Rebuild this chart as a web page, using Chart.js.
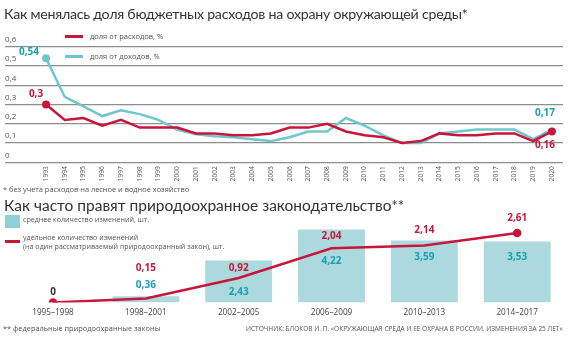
<!DOCTYPE html>
<html><head><meta charset="utf-8">
<script src="https://cdn.jsdelivr.net/npm/chart.js@4/dist/chart.umd.min.js"></script>
<style>
body{margin:0;width:570px;height:339px;overflow:hidden;background:#fff;font-family:'Open Sans',sans-serif;color:#333;position:relative}
.t{position:absolute;white-space:nowrap;line-height:1}
.lg{font-size:7.5px;color:#555}
.lg2{font-size:7.1px;color:#555}
.ttl{font-family:Lato,sans-serif;font-size:15.5px;color:#333}
#w1{position:absolute;left:0;top:0;width:570px;height:195px}
#w2{position:absolute;left:0;top:195px;width:570px;height:130px}
</style></head><body>
<div id="w1"><canvas id="c1"></canvas></div>
<div id="w2"><canvas id="c2"></canvas></div>

<div class="t ttl" style="left:4px;top:7px;font-size:14.2px;letter-spacing:-0.25px">Как менялась доля бюджетных расходов на охрану окружающей среды*</div>
<div style="position:absolute;left:65px;top:35px;width:18px;height:3px;background:#c8163a"></div>
<div class="t lg" style="left:90px;top:33px">доля от расходов, %</div>
<div style="position:absolute;left:65px;top:55px;width:18px;height:3px;background:#6fc6cd"></div>
<div class="t lg" style="left:90px;top:53px">доля от доходов, %</div>
<div class="t" style="left:3px;top:186px;font-size:7.4px;color:#555">* без учета расходов на лесное и водное хозяйство</div>

<div class="t ttl" style="left:4px;top:198px">Как часто правят природоохранное законодательство**</div>
<div style="position:absolute;left:5px;top:215px;width:15px;height:13px;background:#8fcfd6"></div>
<div class="t lg2" style="left:23px;top:216px">среднее количество изменений, шт.</div>
<div style="position:absolute;left:5px;top:240px;width:15px;height:3px;background:#c8163a"></div>
<div class="t lg2" style="left:23px;top:234px">удельное количество изменений</div>
<div class="t lg2" style="left:23px;top:243px">(на один рассматриваемый природоохранный закон), шт.</div>
<div class="t" style="left:3px;top:325px;font-size:7.4px;color:#555">** федеральные природоохранные законы</div>
<div class="t" style="left:246px;top:326px;font-size:6.55px;color:#555">ИСТОЧНИК: БЛОКОВ И. П. «ОКРУЖАЮЩАЯ СРЕДА И ЕЕ ОХРАНА В РОССИИ. ИЗМЕНЕНИЯ ЗА 25 ЛЕТ»</div>

<script>
// ---- data: top chart ----
const years = [1993,1994,1995,1996,1997,1998,1999,2000,2001,2002,2003,2004,2005,2006,2007,2008,2009,2010,2011,2012,2013,2014,2015,2016,2017,2018,2019,2020];
const shareOfSpending = [0.30,0.22,0.23,0.19,0.22,0.18,0.18,0.18,0.15,0.15,0.14,0.14,0.15,0.18,0.18,0.20,0.16,0.14,0.13,0.10,0.11,0.15,0.14,0.14,0.15,0.15,0.11,0.16];
const shareOfRevenue  = [0.54,0.34,0.29,0.24,0.27,0.25,0.22,0.17,0.145,0.135,0.13,0.12,0.11,0.13,0.16,0.16,0.23,0.19,0.14,0.10,0.10,0.15,0.16,0.17,0.17,0.17,0.12,0.17];
const yTicks = [0,0.1,0.2,0.3,0.4,0.5,0.6];

// ---- data: bottom chart ----
const periods = ['1995–1998','1998–2001','2002–2005','2006–2009','2010–2013','2014–2017'];
const avgChanges = [0,0.36,2.43,4.22,3.59,3.53];
const specificChanges = [0,0.15,0.92,2.04,2.14,2.61];

const RED = '#c8163a', CYAN = '#6fc6cd', CYAN_TXT = '#1a9fb3', BAR = '#abd9dd';
const fmt = v => String(v).replace('.', ',');
const FONT = "'Open Sans', sans-serif";

// label placement (pixel offsets from the marks)
const topLabels = [
  {ds:1, i:0,  dx:-17, dy:-6,  color:CYAN_TXT},
  {ds:0, i:0,  dx:-10, dy:-10, color:RED},
  {ds:1, i:27, dx:-7,  dy:-16, color:CYAN_TXT},
  {ds:0, i:27, dx:-7,  dy:14,  color:RED}
];
const redLabelDy = [-10,-30,-10,-12,-15,-15];
const barLabelDy = [0,-11,32,32,17,16];

const labelPlugin1 = {
  id:'lbl1',
  afterDatasetsDraw(chart){
    const ctx = chart.ctx; ctx.save();
    ctx.font = "bold 10px " + FONT; ctx.textAlign='center'; ctx.textBaseline='middle';
    topLabels.forEach(l=>{
      const p = chart.getDatasetMeta(l.ds).data[l.i];
      const v = chart.data.datasets[l.ds].data[l.i].y;
      ctx.fillStyle = l.color;
      ctx.fillText(fmt(v), p.x + l.dx, p.y + l.dy);
    });
    ctx.restore();
  }
};

new Chart(document.getElementById('c1'), {
  type:'line',
  data:{datasets:[
    {label:'доля от расходов, %', data:years.map((y,i)=>({x:y,y:shareOfSpending[i]})), borderColor:RED, backgroundColor:RED, borderWidth:2.5,
     pointRadius:c=>(c.dataIndex===0||c.dataIndex===years.length-1)?4:0, pointBorderWidth:0, tension:0},
    {label:'доля от доходов, %', data:years.map((y,i)=>({x:y,y:shareOfRevenue[i]})), borderColor:CYAN, backgroundColor:CYAN, borderWidth:2.5,
     pointRadius:c=>c.dataIndex===0?4:0, pointBorderWidth:0, tension:0}
  ]},
  options:{
    responsive:true, maintainAspectRatio:false, animation:false,
    layout:{padding:{left:5,right:7,top:46.7,bottom:0}},
    plugins:{legend:{display:false},tooltip:{enabled:false}},
    scales:{
      x:{type:'linear', min:1990.81, max:2020.59,
        afterBuildTicks:a=>{a.ticks = years.map(v=>({value:v}));},
        afterFit:s=>{s.height = 195-162.3;},
        grid:{display:false, drawTicks:false}, border:{display:false},
        ticks:{autoSkip:false, minRotation:90, maxRotation:90, padding:4, color:'#555', font:{size:6.6, family:FONT}, callback:v=>String(v)}},
      y:{min:0, max:0.6,
        afterBuildTicks:a=>{a.ticks = yTicks.map(v=>({value:v}));},
        afterFit:s=>{s.width = 0;},
        grid:{color:'#8d8d8d', lineWidth:1.3, drawTicks:false}, border:{display:false},
        ticks:{mirror:true, padding:0, labelOffset:-7, color:'#555', font:{size:8, family:FONT}, callback:v=>fmt(Math.round(v*10)/10)}}
    }
  },
  plugins:[labelPlugin1]
});

const labelPlugin2 = {
  id:'lbl2',
  afterDatasetsDraw(chart){
    const ctx = chart.ctx; ctx.save();
    ctx.font = "bold 10px " + FONT; ctx.textAlign='center'; ctx.textBaseline='middle';
    const lineMeta = chart.getDatasetMeta(0), barMeta = chart.getDatasetMeta(1);
    periods.forEach((p,i)=>{
      const lp = lineMeta.data[i];
      ctx.fillStyle = specificChanges[i]===0 ? '#333' : RED;
      ctx.fillText(fmt(specificChanges[i]), lp.x, lp.y + redLabelDy[i]);
      if (avgChanges[i] > 0) {
        const bp = barMeta.data[i];
        ctx.fillStyle = CYAN_TXT;
        ctx.fillText(fmt(avgChanges[i]), bp.x, bp.y + barLabelDy[i]);
      }
    });
    ctx.restore();
  }
};

new Chart(document.getElementById('c2'), {
  data:{labels:periods, datasets:[
    {type:'line', order:0, data:specificChanges, yAxisID:'yl', borderColor:RED, backgroundColor:RED, borderWidth:2.5, tension:0,
     pointRadius:c=>(c.dataIndex===0||c.dataIndex===periods.length-1)?4.3:0, pointBorderWidth:0},
    {type:'bar', order:1, data:avgChanges, yAxisID:'yb', backgroundColor:BAR, categoryPercentage:1, barPercentage:0.72}
  ]},
  options:{
    responsive:true, maintainAspectRatio:false, animation:false,
    layout:{padding:{left:6.6,right:6.4,top:21,bottom:0}},
    plugins:{legend:{display:false},tooltip:{enabled:false}},
    scales:{
      x:{offset:true, grid:{display:false, drawTicks:false}, border:{display:false},
        afterFit:s=>{s.height = 130-107.5;},
        ticks:{padding:5, color:'#444', font:{size:8.2, family:FONT}, maxRotation:0}},
      yb:{display:false, min:0, max:5},
      yl:{display:false, min:0, max:3.25}
    }
  },
  plugins:[labelPlugin2]
});
</script>
</body></html>
